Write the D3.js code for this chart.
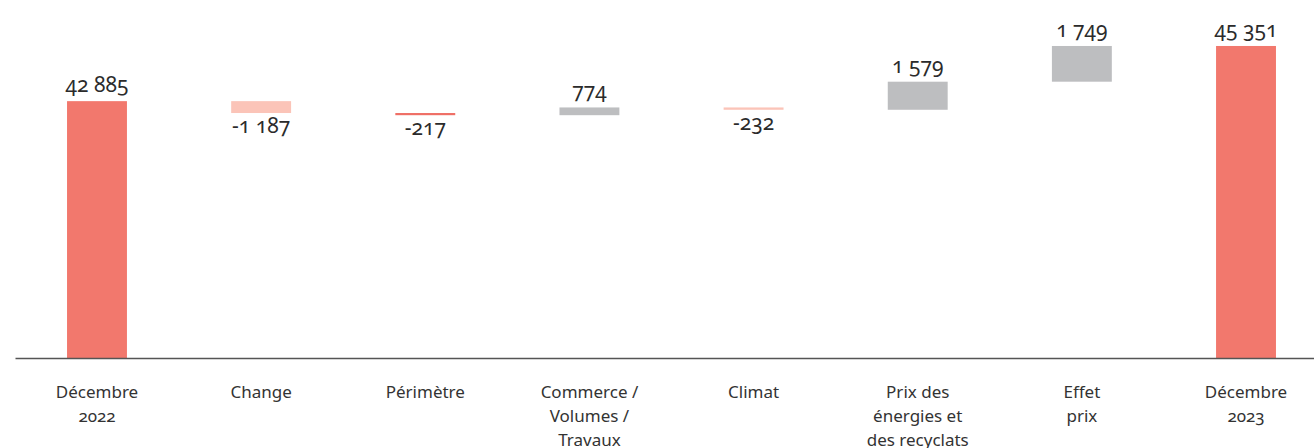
<!DOCTYPE html>
<html lang="fr">
<head>
<meta charset="UTF-8">
<title>Chiffre d'affaires décembre 2022 - décembre 2023</title>
<script src="https://cdn.jsdelivr.net/npm/d3@7"></script>
<style>
    body, html {
        margin: 0;
        padding: 0;
        background: #fff;
        font-family: "Noto Sans", "Open Sans", sans-serif;
    }
    .value-label {
        font-size: 21px;
        fill: #2b2b2b;
        text-anchor: middle;
        font-variant-numeric: oldstyle-nums;
    }
    .tick text {
        font-family: "Noto Sans", sans-serif;
        font-size: 17px;
        fill: #333;
        font-variant-numeric: oldstyle-nums;
    }
</style>
</head>
<body>
<div id="chart"></div>
<script>
// data
const categories = ["Décembre 2022", "Change", "Périmètre", "Commerce / Volumes / Travaux",
    "Climat", "Prix des énergies et des recyclats", "Effet prix", "Décembre 2023"];
const tickLines = [["Décembre", "2022"], ["Change"], ["Périmètre"], ["Commerce /", "Volumes /", "Travaux"],
    ["Climat"], ["Prix des", "énergies et", "des recyclats"], ["Effet", "prix"], ["Décembre", "2023"]];
const values = [42885, -1187, -217, 774, -232, 1579, 1749, 45351];
const valueLabels = ["42 885", "-1 187", "-217", "774", "-232", "1 579", "1 749", "45 351"];
const totals = ["Décembre 2022", "Décembre 2023"];

const width = 1314, height = 448;
const baseY = 358;

const svg = d3.select("#chart").append("svg")
    .attr("width", width)
    .attr("height", height);

const x = d3.scaleBand()
    .domain(categories)
    .range([15, 1328])
    .paddingInner(0.635)
    .paddingOuter(0.317);

// broken axis: the floor is not zero, the middle band is squeezed
const y = d3.scaleLinear()
    .domain([31400, 41400, 42900, 43700, 45400])
    .range([baseY, 116, 101, 79, 45]);

const color = d3.scaleOrdinal()
    .domain(categories)
    .range(["#f2786d", "#fbc4b8", "#ef6f66", "#bdbec0", "#fbc4b8", "#bdbec0", "#bdbec0", "#f2786d"]);

// waterfall steps
let running = 0;
const steps = categories.map((c, i) => {
    let start, end;
    if (totals.includes(c)) {
        start = y.domain()[0];
        end = values[i];
        running = values[i];
    } else {
        start = running;
        end = running + values[i];
        running = end;
    }
    return { cat: c, start, end, value: values[i], label: valueLabels[i] };
});

svg.selectAll(".bar")
    .data(steps)
    .enter().append("rect")
    .attr("class", "bar")
    .attr("x", d => x(d.cat))
    .attr("width", x.bandwidth())
    .attr("y", d => y(Math.max(d.start, d.end)))
    .attr("height", d => Math.abs(y(d.start) - y(d.end)))
    .attr("fill", d => color(d.cat));

svg.selectAll(".value-label")
    .data(steps)
    .enter().append("text")
    .attr("class", "value-label")
    .attr("x", d => x(d.cat) + x.bandwidth() / 2)
    .attr("y", d => d.value >= 0 ? y(Math.max(d.start, d.end)) - 9 : y(Math.min(d.start, d.end)) + 20)
    .text(d => d.label);

const axis = svg.append("g")
    .attr("transform", `translate(0,${baseY})`)
    .call(d3.axisBottom(x).tickSize(0).tickSizeOuter(0));

axis.attr("font-family", null).attr("font-size", null);

axis.select(".domain")
    .attr("stroke", "#555")
    .attr("stroke-width", 1.5);

axis.selectAll(".tick text").remove();
axis.selectAll(".tick").append("text")
    .attr("text-anchor", "middle")
    .attr("y", 40)
    .each(function(d) {
        const lines = tickLines[categories.indexOf(d)];
        const t = d3.select(this);
        lines.forEach((line, i) => {
            t.append("tspan")
                .attr("x", 0)
                .attr("dy", i === 0 ? 0 : 24)
                .text(line);
        });
    });
</script>
</body>
</html>
